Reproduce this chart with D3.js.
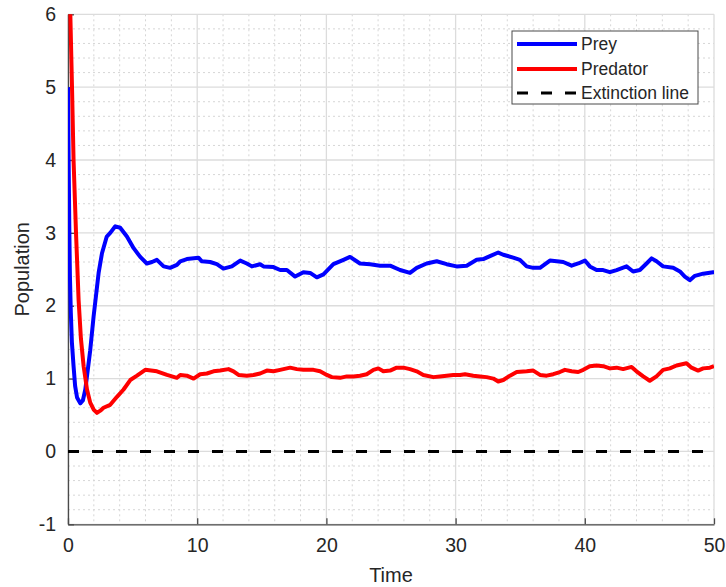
<!DOCTYPE html>
<html><head><meta charset="utf-8">
<script src="https://cdn.jsdelivr.net/npm/d3@7"></script>
<style>body{margin:0;background:#fff}svg{display:block}text{font-family:"Liberation Sans",Arial,sans-serif;fill:#262626}</style>
</head><body><svg id="c" width="726" height="587"></svg>
<script>
const xTicks = [0,10,20,30,40,50];
const yTicks = [-1,0,1,2,3,4,5,6];
const seriesNames = ["Prey","Predator","Extinction line"];
const preyT = [0,0.05,0.1,0.15,0.22,0.3,0.43,0.55,0.7,0.95,1.15,1.34,1.72,1.98,2.37,2.63,3.0,3.27,3.66,4.04,4.56,5.08,5.59,6.1,6.5,6.88,7.4,7.9,8.43,8.69,9.2,10.1,10.36,11.0,11.52,12.03,12.68,13.33,13.84,14.23,14.87,15.13,15.9,16.42,16.94,17.58,18.22,18.74,19.26,19.77,20.54,21.32,21.83,22.6,23.38,24.15,24.93,25.7,26.47,26.99,27.76,28.54,29.31,30.08,30.86,31.63,32.14,32.66,33.3,33.69,34.46,34.98,35.5,36.01,36.53,37.3,37.82,38.33,38.98,39.49,40.01,40.39,40.91,41.42,41.94,42.46,43.23,43.74,44.26,44.78,45.17,45.55,46.06,46.84,47.36,47.74,48.13,48.52,49.16,49.93,50];
const preyV = [5.0,4.0,3.1,2.4,1.9,1.5,1.17,0.9,0.74,0.66,0.7,0.85,1.39,1.85,2.45,2.72,2.95,3.0,3.09,3.07,2.95,2.79,2.67,2.58,2.6,2.63,2.54,2.52,2.56,2.61,2.64,2.66,2.61,2.60,2.57,2.51,2.54,2.62,2.58,2.54,2.57,2.54,2.53,2.49,2.49,2.40,2.46,2.45,2.39,2.43,2.57,2.63,2.67,2.58,2.57,2.55,2.55,2.49,2.45,2.52,2.58,2.61,2.57,2.54,2.55,2.63,2.64,2.68,2.73,2.70,2.66,2.63,2.54,2.52,2.52,2.62,2.61,2.60,2.55,2.58,2.62,2.54,2.49,2.49,2.46,2.49,2.54,2.47,2.49,2.58,2.65,2.61,2.54,2.52,2.47,2.40,2.35,2.41,2.44,2.46,2.46];
const predT = [0,0.18,0.31,0.43,0.62,0.82,1.0,1.21,1.47,1.72,2.0,2.24,2.5,2.75,3.27,3.79,4.3,4.82,5.34,5.98,6.88,7.66,8.43,8.69,9.2,9.72,10.23,10.75,11.26,11.78,12.42,12.81,13.2,13.84,14.36,14.87,15.39,15.9,16.42,17.19,17.71,18.22,19.0,19.51,20.03,20.42,21.06,21.58,22.09,22.6,23.12,23.64,24.02,24.41,24.93,25.44,25.96,26.47,26.99,27.5,28.28,28.79,29.31,29.82,30.34,30.73,31.37,31.89,32.4,32.92,33.3,33.69,34.21,34.73,35.5,36.01,36.53,37.05,37.56,38.07,38.46,38.98,39.49,39.88,40.39,40.91,41.42,41.94,42.46,42.97,43.62,44.0,44.52,45.03,45.55,46.06,46.58,47.1,47.61,47.87,48.26,48.77,49.16,49.68,50];
const predV = [8.0,6.0,5.0,4.0,3.0,2.08,1.55,1.17,0.85,0.67,0.57,0.53,0.56,0.6,0.64,0.75,0.85,0.98,1.04,1.12,1.10,1.05,1.01,1.05,1.04,1.00,1.06,1.07,1.10,1.11,1.13,1.10,1.05,1.04,1.05,1.07,1.11,1.10,1.12,1.15,1.13,1.12,1.12,1.10,1.05,1.02,1.01,1.03,1.03,1.04,1.06,1.12,1.14,1.10,1.11,1.15,1.15,1.13,1.10,1.05,1.02,1.03,1.04,1.05,1.05,1.06,1.04,1.03,1.02,1.0,0.96,0.98,1.04,1.09,1.10,1.11,1.05,1.04,1.06,1.09,1.12,1.10,1.09,1.12,1.17,1.18,1.17,1.14,1.15,1.13,1.16,1.10,1.03,0.97,1.03,1.12,1.14,1.18,1.20,1.21,1.15,1.11,1.14,1.15,1.17];
const extinctionV = [0,0];
const extinctionT = [0,50];

const svg = d3.select("#c");
const L=68, R=714, T=14.3, B=524.3;
const x = d3.scaleLinear().domain([0,50]).range([L,R]);
const y = d3.scaleLinear().domain([-1,6]).range([B,T]);

// minor grid
const minorX = d3.range(0,50.01,2).filter(v=>v%10!==0);
const minorY = d3.range(-1,6.001,0.2).map(v=>+v.toFixed(1)).filter(v=>Math.abs(v-Math.round(v))>1e-6);
const g = svg.append("g");
g.selectAll(".mx").data(minorX).join("line").attr("x1",d=>x(d)).attr("x2",d=>x(d)).attr("y1",T).attr("y2",B)
 .attr("stroke","#d6d6d6").attr("stroke-width",1).attr("stroke-dasharray","2,3");
g.selectAll(".my").data(minorY).join("line").attr("y1",d=>y(d)).attr("y2",d=>y(d)).attr("x1",L).attr("x2",R)
 .attr("stroke","#d6d6d6").attr("stroke-width",1).attr("stroke-dasharray","2,3");
g.selectAll(".gx").data(xTicks).join("line").attr("x1",d=>x(d)).attr("x2",d=>x(d)).attr("y1",T).attr("y2",B)
 .attr("stroke","#dcdcdc").attr("stroke-width",1.3);
g.selectAll(".gy").data(yTicks).join("line").attr("y1",d=>y(d)).attr("y2",d=>y(d)).attr("x1",L).attr("x2",R)
 .attr("stroke","#dcdcdc").attr("stroke-width",1.3);

// axes
const fmt = d => String(d);
const xAxis = d3.axisBottom(x).tickValues(xTicks).tickFormat(fmt).tickSizeInner(-6).tickSizeOuter(0).tickPadding(14);
const yAxis = d3.axisLeft(y).tickValues(yTicks).tickFormat(fmt).tickSizeInner(-6).tickSizeOuter(0).tickPadding(12);
const ax = svg.append("g").attr("transform",`translate(0,${B})`).call(xAxis);
const ay = svg.append("g").attr("transform",`translate(${L},0)`).call(yAxis);
[ax,ay].forEach(a=>{
  a.select(".domain").attr("stroke","#4a4a4a").attr("stroke-width",1.3);
  a.selectAll(".tick line").attr("stroke","#4a4a4a").attr("stroke-width",1.3);
  a.selectAll(".tick text").attr("font-size","19.5px").attr("fill","#333").attr("font-family","Liberation Sans, Arial, sans-serif");
});

// clip
svg.append("clipPath").attr("id","clip").append("rect").attr("x",L).attr("y",T).attr("width",R-L).attr("height",B-T);
const plot = svg.append("g").attr("clip-path","url(#clip)");
const line = d3.line().x(d=>x(d[0])).y(d=>y(d[1]));
plot.append("path").datum(extinctionT.map((t,i)=>[t,extinctionV[i]])).attr("d",line)
 .attr("fill","none").attr("stroke","#000").attr("stroke-width",3).attr("stroke-dasharray","11,13");
plot.append("path").datum(preyT.map((t,i)=>[t,preyV[i]])).attr("d",line)
 .attr("fill","none").attr("stroke","#0000ff").attr("stroke-width",4).attr("stroke-linejoin","round");
plot.append("path").datum(predT.map((t,i)=>[t,predV[i]])).attr("d",line)
 .attr("fill","none").attr("stroke","#ff0000").attr("stroke-width",4).attr("stroke-linejoin","round");

// labels
svg.append("text").attr("x",(L+R)/2).attr("y",582).attr("text-anchor","middle").attr("font-size","20px").text("Time");
svg.append("text").attr("transform",`translate(29,${(T+B)/2}) rotate(-90)`).attr("text-anchor","middle").attr("font-size","20px").text("Population");

// legend
const lg = svg.append("g");
lg.append("rect").attr("x",512).attr("y",31).attr("width",186).attr("height",73).attr("fill","#fff").attr("stroke","#4a4a4a").attr("stroke-width",1);
const legColors = ["#0000ff","#ff0000","#000"];
const legY = [44,69,93];
seriesNames.forEach((n,i)=>{
  lg.append("line").attr("x1",517).attr("x2",577).attr("y1",legY[i]).attr("y2",legY[i])
    .attr("stroke",legColors[i]).attr("stroke-width",i<2?4:3).attr("stroke-dasharray",i==2?"11,13":null);
  lg.append("text").attr("x",581).attr("y",legY[i]).attr("dy","0.35em").attr("font-size","17.5px").text(n);
});
</script></body></html>
